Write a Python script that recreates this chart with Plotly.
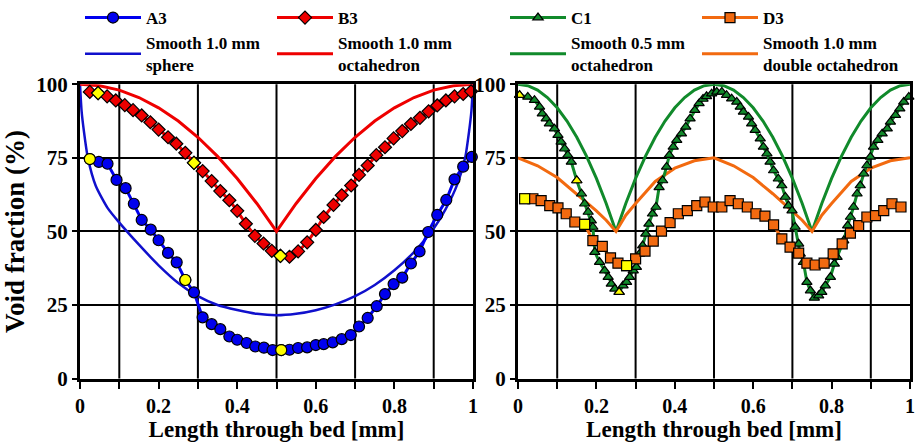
import plotly.graph_objects as go

# ---------------- data ----------------
A3_x = [0.025,0.048,0.07,0.093,0.116,0.137,0.157,0.18,0.2,0.224,0.246,0.268,0.29,0.312,0.335,0.357,0.38,0.40,0.424,0.446,0.468,0.49,0.512,0.533,0.555,0.578,0.6,0.62,0.643,0.666,0.689,0.71,0.732,0.755,0.776,0.798,0.82,0.842,0.864,0.886,0.909,0.932,0.953,0.975,0.997]
A3_y = [74.6,73.6,73,67.5,64.7,59.4,53.9,50.6,47,42.7,39.5,33.5,29.3,20.8,18.5,16.8,14.3,13.2,12.1,10.9,10.5,9.7,9.7,9.8,10.4,10.6,11.4,11.7,12.3,13.4,14.8,17.7,20.6,24.6,28.7,32.1,34.3,39.1,43.2,49.8,55.6,60.7,67.7,72,75.3]
A3_hi_x = [0.025, 0.268, 0.512]
A3_hi_y = [74.6, 33.5, 9.7]

B3_x = [0.025,0.046,0.069,0.091,0.114,0.135,0.157,0.179,0.2,0.224,0.245,0.268,0.29,0.312,0.335,0.357,0.38,0.40,0.422,0.445,0.467,0.488,0.51,0.533,0.555,0.578,0.6,0.62,0.645,0.666,0.69,0.71,0.732,0.754,0.776,0.798,0.82,0.842,0.865,0.887,0.909,0.931,0.953,0.975,0.995]
B3_y = [97.4,97,95.9,94.5,92.9,91.2,89.4,87.1,84.6,82,79.8,76.7,73.3,70.5,67.1,63.7,60.6,57,52.6,48.5,45.9,43.4,41.7,41.4,43.2,46.3,50.5,54.9,59,62.3,65.6,69.2,72.4,75.9,78.6,81.6,84.1,86.5,88.6,90.8,92.8,94.5,95.9,96.7,97.6]
B3_hi_x = [0.046, 0.29, 0.51]
B3_hi_y = [97, 73.3, 41.7]

SPH_x = [0,0.004,0.01,0.02,0.04,0.07,0.1,0.15,0.2,0.25,0.3,0.35,0.4,0.45,0.5,0.55,0.6,0.65,0.7,0.75,0.8,0.85,0.9,0.93,0.96,0.98,0.99,0.996,1]
SPH_y = [100,91,84,75,65.5,58,53,45.5,38.5,32.5,28,25,23.3,22,21.5,22,23.2,25.2,28,31.8,36.8,43,51,57.5,66,75,84,91,100]

OCT1_x = [0,0.05,0.1,0.15,0.2,0.25,0.3,0.35,0.4,0.45,0.5,0.55,0.6,0.65,0.7,0.75,0.8,0.85,0.9,0.95,1]
OCT1_y = [100,99.5,98,95.5,92,87.5,82,75.5,68,59.5,50,59.5,68,75.5,82,87.5,92,95.5,98,99.5,100]

C1_x = [0.004,0.025,0.042,0.055,0.062,0.072,0.08,0.093,0.102,0.11,0.119,0.127,0.136,0.15,0.162,0.17,0.179,0.187,0.191,0.196,0.208,0.221,0.23,0.238,0.247,0.258,0.268,0.277,0.285,0.294,0.302,0.31,0.318,0.326,0.334,0.343,0.352,0.36,0.369,0.379,0.386,0.396,0.405,0.417,0.428,0.439,0.451,0.462,0.472,0.481,0.494,0.507,0.52,0.532,0.545,0.558,0.567,0.575,0.588,0.596,0.605,0.618,0.626,0.635,0.643,0.652,0.664,0.673,0.682,0.69,0.699,0.707,0.716,0.72,0.728,0.737,0.746,0.756,0.767,0.775,0.784,0.797,0.807,0.814,0.831,0.841,0.848,0.856,0.865,0.873,0.882,0.89,0.899,0.907,0.918,0.929,0.942,0.95,0.963,0.974,0.984,0.997]
C1_y = [96.3,95.7,94.6,92.3,90,88.3,86.6,84.9,82.7,80.4,78.1,75.9,73.6,67.3,62.8,59.4,56.6,53.7,51.5,43,39.6,36.7,34.5,32.2,30.5,29.4,31.6,32.8,34.5,36.7,37.9,42.4,45.2,49.2,52.6,56,58.3,65,67.3,71.9,75.9,78.7,81,83.2,85.5,88.3,91.2,93.5,95,95.9,96.8,97.4,97.4,96.3,95.1,94,92.3,90.6,88.9,86.6,84.4,81.5,78.7,76.4,73.6,70.7,67.9,65.6,61.7,58.8,57.1,51.5,45.8,42.4,39.6,32.8,29.9,27.4,28.2,29.4,31.6,34.5,39,41.3,46.9,52,54.9,58.3,62.8,65.6,69.6,72.4,75.3,78.7,81,83.2,84.9,87.2,89.5,91.7,94,95.7]
C1_hi_x = [0.004, 0.15, 0.258]
C1_hi_y = [96.3, 67.3, 29.4]

D3_x = [0.017,0.038,0.059,0.081,0.102,0.123,0.145,0.17,0.191,0.215,0.236,0.255,0.277,0.3,0.324,0.345,0.366,0.388,0.409,0.432,0.456,0.477,0.498,0.52,0.541,0.562,0.585,0.607,0.63,0.652,0.673,0.694,0.716,0.737,0.758,0.781,0.804,0.827,0.848,0.869,0.89,0.912,0.933,0.954,0.977]
D3_y = [61.1,61.1,60.5,58.8,58,56,53.2,52.4,46.9,44.9,41,39.2,38.4,40.7,43.3,46.7,50.1,53,56,57.1,58.8,60,58.3,58.3,60.5,59.4,58.3,56,55.2,52.2,47.5,44.7,42.6,39.2,38.6,39.2,42.4,45.8,49.4,52,54.9,55.4,57.1,59.4,58.3]
D3_hi_x = [0.017, 0.17, 0.277]
D3_hi_y = [61.1, 52.4, 38.4]

OCT05_x = [0,0.025,0.05,0.075,0.1,0.125,0.15,0.175,0.2,0.225,0.25,0.275,0.3,0.325,0.35,0.375,0.4,0.425,0.45,0.475,0.5,
           0.525,0.55,0.575,0.6,0.625,0.65,0.675,0.7,0.725,0.75,0.775,0.8,0.825,0.85,0.875,0.9,0.925,0.95,0.975,1]
OCT05_y = [100,99.5,98,95.5,92,87.5,82,75.5,68,59.5,50,59.5,68,75.5,82,87.5,92,95.5,98,99.5,100,
           99.5,98,95.5,92,87.5,82,75.5,68,59.5,50,59.5,68,75.5,82,87.5,92,95.5,98,99.5,100]

DOCT_x = [0,0.05,0.1,0.15,0.2,0.225,0.25,0.275,0.3,0.35,0.4,0.45,0.5,0.55,0.6,0.65,0.7,0.725,0.75,0.775,0.8,0.85,0.9,0.95,1]
DOCT_y = [75,72.3,68.3,62.8,57,53.8,50,55.5,59.5,67,71.5,74,75,72.3,68.3,62.8,57,53.8,50,55.5,59.5,67,71.5,74,75]

GRID_X = [0.1, 0.3, 0.5, 0.7, 0.9]
X_TICKS = [0, 0.2, 0.4, 0.6, 0.8, 1]
X_TICKTEXT = ["0", "0.2", "0.4", "0.6", "0.8", "1"]
Y_TICKS = [0, 25, 50, 75, 100]

BLUE = "#0000ee"
RED = "#ee0000"
GREEN = "#118a2b"
ORANGE = "#f26a10"
YELLOW = "#ffff00"
FONT = "Liberation Serif"

fig = go.Figure()

def smooth(x, y, color, name, legend, xa, ya, width=3, shape="linear"):
    fig.add_trace(go.Scatter(x=x, y=y, mode="lines", name=name, legend=legend,
                             line=dict(color=color, width=width, shape=shape, smoothing=0.6),
                             xaxis=xa, yaxis=ya, cliponaxis=False))

def data(x, y, color, sym, size, name, legend, xa, ya):
    fig.add_trace(go.Scatter(x=x, y=y, mode="lines+markers", name=name, legend=legend,
                             line=dict(color=color, width=3),
                             marker=dict(symbol=sym, size=size, color=color,
                                         line=dict(color="black", width=1.2)),
                             xaxis=xa, yaxis=ya, cliponaxis=False))

def hi(x, y, sym, size, xa, ya):
    fig.add_trace(go.Scatter(x=x, y=y, mode="markers", showlegend=False,
                             marker=dict(symbol=sym, size=size, color=YELLOW,
                                         line=dict(color="black", width=1.2)),
                             xaxis=xa, yaxis=ya, cliponaxis=False, hoverinfo="skip"))

# left panel
smooth(SPH_x, SPH_y, "#1010cc", "Smooth 1.0 mm<br>sphere", "legend", "x", "y", width=2.5, shape="spline")
smooth(OCT1_x, OCT1_y, RED, "Smooth 1.0 mm<br>octahedron", "legend2", "x", "y")
data(A3_x, A3_y, BLUE, "circle", 11, "A3", "legend", "x", "y")
hi(A3_hi_x, A3_hi_y, "circle", 11, "x", "y")
data(B3_x, B3_y, RED, "diamond", 10, "B3", "legend2", "x", "y")
hi(B3_hi_x, B3_hi_y, "diamond", 10, "x", "y")

# right panel
smooth(OCT05_x, OCT05_y, GREEN, "Smooth 0.5 mm<br>octahedron", "legend3", "x2", "y2")
smooth(DOCT_x, DOCT_y, ORANGE, "Smooth 1.0 mm<br>double octahedron", "legend4", "x2", "y2")
data(C1_x, C1_y, GREEN, "triangle-up", 9, "C1", "legend3", "x2", "y2")
hi(C1_hi_x, C1_hi_y, "triangle-up", 9, "x2", "y2")
data(D3_x, D3_y, ORANGE, "square", 10, "D3", "legend4", "x2", "y2")
hi(D3_hi_x, D3_hi_y, "square", 10, "x2", "y2")

# vertical grid lines at odd tenths
for xr in ["x", "x2"]:
    for gx in GRID_X:
        fig.add_shape(type="line", xref=xr, yref=("y" if xr == "x" else "y2") + " domain",
                      x0=gx, x1=gx, y0=0, y1=1, line=dict(color="black", width=2), layer="below")

tickfont = dict(family=FONT, size=20, color="black", weight="bold")
xcommon = dict(range=[0, 1], tickvals=X_TICKS, ticktext=X_TICKTEXT, ticks="outside", ticklen=7,
               tickwidth=2, tickcolor="black", showgrid=False, zeroline=False, automargin=False,
               showline=True, linewidth=3, linecolor="black", mirror=True,
               minor=dict(dtick=0.1, tick0=0, ticks="outside", ticklen=7, tickwidth=2,
                          tickcolor="black", showgrid=False),
               tickfont=tickfont,
               title=dict(text="Length through bed [mm]", standoff=3,
                          font=dict(family=FONT, size=23, color="black", weight="bold")))
ycommon = dict(range=[0, 100], tickvals=Y_TICKS, ticks="outside", ticklen=5, tickwidth=2,
               tickcolor="black", showgrid=True, gridcolor="black", gridwidth=2, zeroline=False,
               showline=True, linewidth=3, linecolor="black", mirror=True,
               tickfont=dict(family=FONT, size=21, color="black", weight="bold"),
               automargin=False)

legfont = dict(family=FONT, size=17, color="black", weight="bold")
def leg(xpx):
    return dict(x=xpx / 920, y=1.01, xanchor="left", yanchor="top", orientation="v",
                bgcolor="rgba(0,0,0,0)", font=legfont, tracegroupgap=0, itemwidth=56,
                traceorder="reversed")

fig.update_layout(
    width=920, height=443,
    margin=dict(l=0, r=0, t=0, b=0),
    paper_bgcolor="white", plot_bgcolor="white",
    font=dict(family=FONT, color="black", weight="bold"),
    xaxis=dict(domain=[80 / 920, 473 / 920], anchor="y", **xcommon),
    yaxis=dict(domain=[65 / 443, 362 / 443], anchor="x",
               title=dict(text="Void fraction (%)", standoff=6,
                          font=dict(family=FONT, size=27, color="black", weight="bold")),
               **ycommon),
    xaxis2=dict(domain=[518 / 920, 910 / 920], anchor="y2", **xcommon),
    yaxis2=dict(domain=[65 / 443, 362 / 443], anchor="x2", **ycommon),
    legend=leg(80), legend2=leg(272), legend3=leg(505), legend4=leg(697),
    showlegend=True,
)

fig.write_html("out.html")
